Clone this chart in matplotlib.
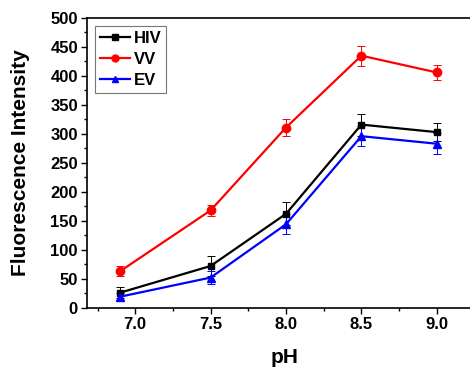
import matplotlib
import matplotlib.pyplot as plt
from matplotlib.lines import Line2D
from matplotlib.ticker import MultipleLocator, FormatStrFormatter

matplotlib.pyplot.switch_backend('Agg')
plt.rcParams['font.family'] = ['Liberation Sans', 'DejaVu Sans']
plt.rcParams['font.weight'] = 'bold'

ph = [6.9, 7.5, 8.0, 8.5, 9.0]
hiv = [26, 72, 162, 316, 303]
hiv_err = [10, 18, 20, 19, 16]
vv = [63, 168, 311, 435, 406]
vv_err = [9, 10, 14, 17, 13]
ev = [19, 52, 144, 296, 283]
ev_err = [6, 11, 17, 17, 18]

series = [
    ("HIV", hiv, hiv_err, "black", "s", 5),
    ("VV", vv, vv_err, "red", "o", 6),
    ("EV", ev, ev_err, "blue", "^", 6),
]

fig = plt.figure(figsize=(4.70, 3.69), dpi=100)
ax = fig.add_axes([87 / 470, 1 - 307.7 / 369, (482 - 87) / 470, (307.7 - 18) / 369])

handles = []
for name, vals, errs, color, marker, ms in series:
    ax.errorbar(ph, vals, yerr=errs, color=color, marker=marker, markersize=ms,
                linewidth=1.6, elinewidth=0.7, capsize=3, capthick=0.7,
                ecolor=color)
    handles.append(Line2D([], [], color=color, marker=marker, markersize=ms - 1,
                          linewidth=1.6, label=name))

ax.set_xlim(6.68, 9.3)
ax.set_ylim(0, 500)
ax.xaxis.set_major_locator(MultipleLocator(0.5))
ax.xaxis.set_minor_locator(MultipleLocator(0.25))
ax.yaxis.set_major_locator(MultipleLocator(50))
ax.yaxis.set_minor_locator(MultipleLocator(25))
ax.xaxis.set_major_formatter(FormatStrFormatter('%.1f'))
ax.tick_params(which='major', length=4.5, width=1, labelsize=12, direction='out', pad=2)
ax.tick_params(which='minor', length=2.5, width=1, direction='out')
ax.tick_params(top=False, right=False)
for s in ax.spines.values():
    s.set_linewidth(1.2)
ax.spines['right'].set_visible(False)

ax.set_xlabel("pH", fontsize=15, fontweight='bold', labelpad=12)
ax.set_ylabel("Fluorescence Intensity", fontsize=15, fontweight='bold', labelpad=15)

leg = ax.legend(handles=handles, loc='upper left', fontsize=12, frameon=True,
                fancybox=False, edgecolor='#555555', handlelength=1.8,
                handletextpad=0.2, borderpad=0.3, labelspacing=0.35,
                borderaxespad=0.5)
leg.get_frame().set_linewidth(0.8)
for t in leg.get_texts():
    t.set_fontweight('bold')

plt.savefig('out.png', dpi=100)
plt.close()
